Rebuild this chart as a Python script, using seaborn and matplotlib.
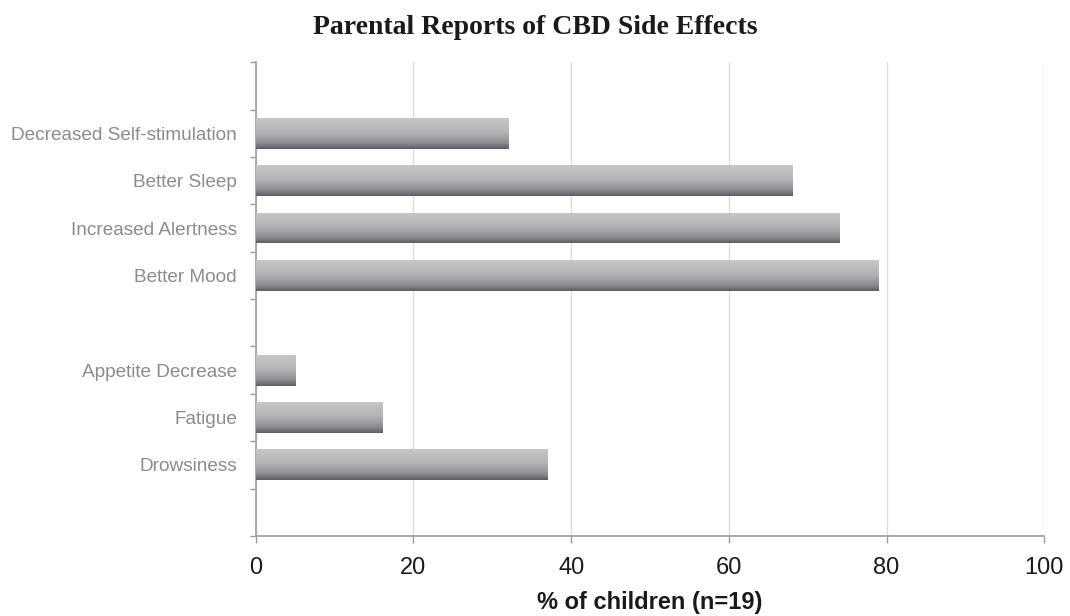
import numpy as np
import pandas as pd
import seaborn as sns
import matplotlib.pyplot as plt
from matplotlib.colors import LinearSegmentedColormap

# slots from top to bottom, blank strings keep the empty gaps
slots = ['', 'Decreased Self-stimulation', 'Better Sleep', 'Increased Alertness',
         'Better Mood', ' ', 'Appetite Decrease', 'Fatigue', 'Drowsiness', '  ']
effects = ['Decreased Self-stimulation', 'Better Sleep', 'Increased Alertness',
           'Better Mood', 'Appetite Decrease', 'Fatigue', 'Drowsiness']
pct = [32, 68, 74, 79, 5, 16, 37]
xticks = [0, 20, 40, 60, 80, 100]

df = pd.DataFrame({'effect': effects, 'pct': pct})

sns.set_theme(style='white')
plt.rcParams['font.family'] = ['Liberation Sans', 'DejaVu Sans']

fig, ax = plt.subplots(figsize=(10.7, 6.16), dpi=100)
fig.subplots_adjust(left=0.239, right=0.976, top=0.899, bottom=0.130)

sns.barplot(data=df, x='pct', y='effect', order=slots, orient='h',
            width=0.65, color='#a0a1a4', ax=ax, zorder=2)

# gradient fill, light on top, dark at the bottom
grad_cmap = LinearSegmentedColormap.from_list(
    'bar', [(0, '#c6c7ca'), (0.45, '#b3b4b7'), (0.8, '#8d8e92'), (1, '#5c5d61')])
grad = np.linspace(0, 1, 256).reshape(-1, 1)
for p in ax.patches:
    x, y, w, h = p.get_x(), p.get_y(), p.get_width(), p.get_height()
    if not np.isfinite(w) or w == 0:
        continue
    im = ax.imshow(grad, cmap=grad_cmap, origin='lower', aspect='auto',
                   extent=[x, x + w, y, y + h], zorder=3, interpolation='bilinear')
    im.set_clip_path(p)
    p.set_facecolor('none')
    p.set_edgecolor('none')

ax.set_xlim(0, 100)
ax.set_ylim(9.5, -0.5)
ax.set_xticks(xticks)
ax.set_xticklabels([str(v) for v in xticks], fontsize=17, color='#1a1a1a')
ax.set_yticks(range(len(slots)))
ax.set_yticklabels(slots, fontsize=13.7, color='#8b8b8f')
ax.set_yticks(np.arange(-0.5, len(slots), 1), minor=True)
ax.tick_params(axis='y', which='major', length=0, pad=13.5)
ax.tick_params(axis='y', which='minor', length=4.5, width=1, color='#9a9a9a', direction='out', left=True)
ax.tick_params(axis='x', which='major', length=5, width=1, color='#9a9a9a', direction='out', bottom=True, pad=10.5)

ax.xaxis.grid(True, color='#dcdcdc', linewidth=1)
ax.yaxis.grid(False)
ax.set_axisbelow(True)
for s in ['top', 'right']:
    ax.spines[s].set_visible(False)
for s in ['left', 'bottom']:
    ax.spines[s].set_color('#a3a3a3')
    ax.spines[s].set_linewidth(1.3)

ax.set_ylabel('')
ax.set_xlabel('% of children (n=19)', fontsize=17, fontweight='bold', labelpad=8.5, color='#1a1a1a')
fig.suptitle('Parental Reports of CBD Side Effects', y=1 - 27 / 616, va='center', fontsize=20,
             fontweight='bold', color='#1a1a1a', family=['Liberation Serif', 'DejaVu Serif'])

fig.savefig('out.png', dpi=100)
